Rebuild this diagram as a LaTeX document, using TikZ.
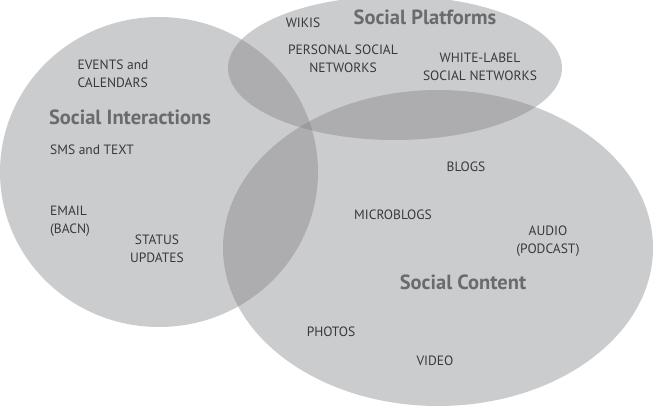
\documentclass[tikz,border=0pt]{standalone}
\usepackage{fontspec}
\setmainfont{PT Sans}
\usepackage{xcolor}
\usepackage{tikz}
\definecolor{vennGray}{HTML}{7E7F82}
\definecolor{labelGray}{HTML}{38393B}
\definecolor{titleGray}{HTML}{6A6B6E}

\begin{document}
\begin{tikzpicture}[x=1pt,y=-1pt,
  zone/.style={fill=vennGray, fill opacity=0.4},
  item/.style={font=\fontsize{13.5}{17.5}\selectfont, text=labelGray, align=center, inner sep=0pt},
  title/.style={font=\fontsize{20.5}{22}\selectfont\bfseries, text=titleGray, inner sep=0pt}]
  \useasboundingbox (0,0) rectangle (654,414);

  % Circles
  \fill[zone] (159,172) ellipse [x radius=159, y radius=155];
  \fill[zone] (395,68) ellipse [x radius=167, y radius=72];
  \fill[zone] (438,248) ellipse [x radius=215, y radius=158];

  % Social Interactions
  \node[title] (interact) at (130,117) {Social Interactions};
  \node[item, align=left] (events) at (113,74) {EVENTS and\\CALENDARS};
  \node[item] (sms) at (92,150) {SMS and TEXT};
  \node[item, align=left] (email) at (70,221) {EMAIL\\(BACN)};
  \node[item] (status) at (157,249) {STATUS\\UPDATES};

  % Social Platforms
  \node[title] (platforms) at (425,17) {Social Platforms};
  \node[item] (wikis) at (303,23) {WIKIS};
  \node[item] (personal) at (343,59) {PERSONAL SOCIAL\\NETWORKS};
  \node[item] (whitelabel) at (480,67) {WHITE-LABEL\\SOCIAL NETWORKS};

  % Social Content
  \node[title] (content) at (463,282) {Social Content};
  \node[item] (blogs) at (466,167) {BLOGS};
  \node[item] (micro) at (393,215) {MICROBLOGS};
  \node[item] (audio) at (548,241) {AUDIO\\(PODCAST)};
  \node[item] (photos) at (331,332) {PHOTOS};
  \node[item] (video) at (435,361) {VIDEO};
\end{tikzpicture}
\end{document}
